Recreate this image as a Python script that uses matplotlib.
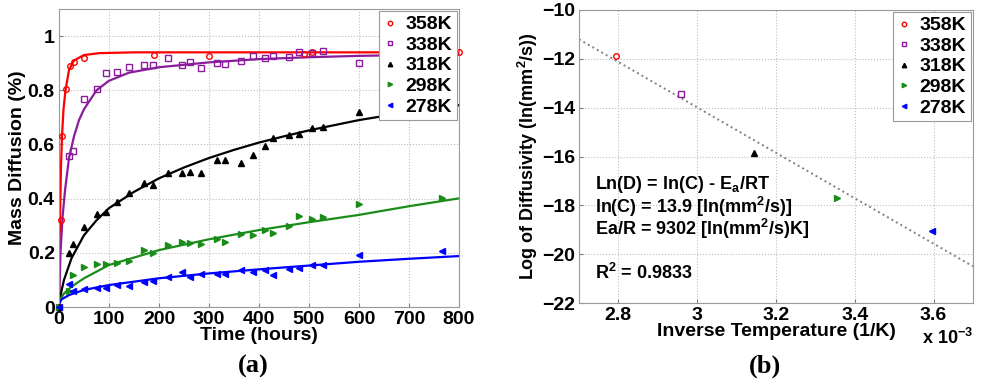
import matplotlib
matplotlib.use("Agg")
import matplotlib.pyplot as plt
from matplotlib.ticker import FixedLocator, FuncFormatter

plt.rcParams['font.family'] = ['Liberation Sans', 'DejaVu Sans']
plt.rcParams['font.weight'] = 'bold'
plt.rcParams['mathtext.fontset'] = 'custom'
plt.rcParams['mathtext.rm'] = 'Liberation Sans:bold'
plt.rcParams['mathtext.it'] = 'Liberation Sans:bold'
plt.rcParams['mathtext.bf'] = 'Liberation Sans:bold'

# ---------------- data: panel (a) ----------------
labels = ["358K", "338K", "318K", "298K", "278K"]
colors = ["#ff0000", "#8a1c9c", "#000000", "#1a8c1a", "#0000ff"]
markers = ["o", "s", "^", ">", "<"]
filled = [False, False, True, True, True]

t358 = [0, 3, 6, 13, 22, 29, 50, 190, 300, 490, 505, 800]
m358 = [0, 0.32, 0.63, 0.805, 0.89, 0.905, 0.92, 0.93, 0.925, 0.935, 0.94, 0.94]

t338 = [20, 28, 50, 76, 93, 115, 139, 169, 188, 218, 245, 261, 283, 316, 331,
        363, 387, 411, 428, 459, 480, 505, 528, 600]
m338 = [0.557, 0.576, 0.768, 0.804, 0.864, 0.868, 0.887, 0.894, 0.895, 0.92,
        0.895, 0.904, 0.884, 0.9, 0.898, 0.909, 0.927, 0.92, 0.927, 0.924,
        0.942, 0.938, 0.945, 0.901]

t318 = [0, 20, 28, 50, 76, 93, 115, 139, 169, 188, 218, 245, 261, 283, 316, 331,
        363, 388, 411, 428, 459, 480, 505, 528, 600]
m318 = [0, 0.2, 0.234, 0.296, 0.345, 0.351, 0.388, 0.421, 0.456, 0.45, 0.493,
        0.493, 0.499, 0.493, 0.544, 0.544, 0.532, 0.56, 0.594, 0.624, 0.634,
        0.638, 0.661, 0.665, 0.72]

t298 = [0, 20, 28, 50, 76, 93, 115, 139, 169, 188, 218, 245, 261, 283, 316, 331,
        363, 388, 411, 428, 459, 480, 505, 528, 600, 765]
m298 = [0, 0.06, 0.117, 0.148, 0.16, 0.16, 0.164, 0.17, 0.21, 0.2, 0.228, 0.24,
        0.238, 0.234, 0.25, 0.24, 0.268, 0.267, 0.286, 0.275, 0.3, 0.336, 0.326,
        0.333, 0.38, 0.404]

t278 = [0, 20, 28, 50, 76, 93, 115, 139, 169, 188, 218, 245, 261, 283, 316, 331,
        363, 388, 411, 428, 459, 480, 505, 528, 600, 765]
m278 = [0, 0.084, 0.06, 0.068, 0.071, 0.071, 0.083, 0.079, 0.092, 0.095, 0.111,
        0.128, 0.111, 0.121, 0.123, 0.121, 0.135, 0.129, 0.135, 0.117, 0.142,
        0.145, 0.154, 0.154, 0.191, 0.206]

# fitted curves
ft358 = [0, 1, 2, 4, 6, 9, 13, 20, 30, 50, 80, 150, 800]
fm358 = [0, 0.18, 0.32, 0.52, 0.63, 0.73, 0.80, 0.875, 0.91, 0.93, 0.937, 0.94, 0.94]
ft338 = [0, 3, 7, 12, 20, 30, 40, 50, 75, 100, 140, 200, 300, 400, 500, 600, 800]
fm338 = [0, 0.2, 0.33, 0.43, 0.55, 0.63, 0.69, 0.73, 0.8, 0.835, 0.865, 0.885,
         0.903, 0.915, 0.922, 0.927, 0.933]
ft318 = [0, 5, 10, 25, 50, 75, 100, 150, 200, 250, 300, 350, 400, 450, 500, 600, 700, 800]
fm318 = [0, 0.06, 0.1, 0.18, 0.265, 0.32, 0.365, 0.425, 0.475, 0.515, 0.55, 0.58,
         0.607, 0.63, 0.652, 0.69, 0.72, 0.745]
ft298 = [0, 10, 25, 50, 100, 200, 300, 400, 500, 600, 700, 800]
fm298 = [0.02, 0.05, 0.075, 0.106, 0.155, 0.21, 0.25, 0.284, 0.313, 0.34, 0.372, 0.401]
ft278 = [0, 5, 20, 50, 100, 200, 300, 400, 500, 600, 700, 800]
fm278 = [0.01, 0.028, 0.044, 0.063, 0.081, 0.106, 0.124, 0.139, 0.153, 0.167, 0.178, 0.188]

# ---------------- data: panel (b) ----------------
invT = [1/358, 1/338, 1/318, 1/298, 1/278]
lnD = [-11.9, -13.45, -15.85, -17.7, -19.05]
fit_x = [2.7e-3, 3.7e-3]
fit_y = [-11.2, -20.5]

fig = plt.figure(figsize=(9.83, 3.85), dpi=100)
ax1 = fig.add_axes([59/983, 1 - 307/385, 400/983, 298/385])
ax2 = fig.add_axes([579/983, 1 - 303/385, 394/983, 293/385])

grid_kw = dict(color="#bdbdbd", linestyle=":", linewidth=0.8)
fs = 14

pts = [(t358, m358), (t338, m338), (t318, m318), (t298, m298), (t278, m278)]
fits = [(ft358, fm358), (ft338, fm338), (ft318, fm318), (ft298, fm298), (ft278, fm278)]

for (tx, my), (fx, fy), c, mk, fl, lb in zip(pts, fits, colors, markers, filled, labels):
    ax1.plot(fx, fy, color=c, linewidth=1.6, zorder=2)
    ax1.plot(tx, my, linestyle="none", marker=mk, markersize=4,
             markerfacecolor=(c if fl else "none"), markeredgecolor=c,
             markeredgewidth=1.0, label=lb, zorder=3, clip_on=False)

ax1.set_xlim(0, 800)
ax1.set_ylim(0, 1.1)
ax1.xaxis.set_major_locator(FixedLocator(range(0, 801, 100)))
ax1.yaxis.set_major_locator(FixedLocator([0, 0.2, 0.4, 0.6, 0.8, 1.0]))
ax1.yaxis.set_major_formatter(FuncFormatter(lambda v, p: "%g" % round(v, 2)))
ax1.grid(True, **grid_kw)
ax1.set_xlabel("Time (hours)", fontsize=fs, fontweight="bold", labelpad=-1)
ax1.set_ylabel("Mass Diffusion (%)", fontsize=fs, fontweight="bold", labelpad=1)
leg1 = ax1.legend(loc="upper right", fontsize=fs, handlelength=0.6, handletextpad=0.5,
                  borderpad=0.25, labelspacing=0.15, fancybox=False, framealpha=1,
                  edgecolor="#9a9a9a", borderaxespad=0.1, markerscale=0.8)
leg1.get_frame().set_linewidth(0.8)

for c, mk, fl, lb, x, y in zip(colors, markers, filled, labels, invT, lnD):
    ax2.plot([x], [y], linestyle="none", marker=mk, markersize=4,
             markerfacecolor=(c if fl else "none"), markeredgecolor=c,
             markeredgewidth=1.0, label=lb, zorder=3)
ax2.plot(fit_x, fit_y, color="#808080", linestyle=":", linewidth=1.4, zorder=2)
ax2.set_xlim(2.7e-3, 3.7e-3)
ax2.set_ylim(-22, -10)
ax2.xaxis.set_major_locator(FixedLocator([2.8e-3, 3.0e-3, 3.2e-3, 3.4e-3, 3.6e-3]))
ax2.xaxis.set_major_formatter(FuncFormatter(lambda v, p: "%g" % round(v * 1e3, 2)))
ax2.yaxis.set_major_locator(FixedLocator(range(-22, -9, 2)))
ax2.grid(True, **grid_kw)
ax2.set_xlabel("Inverse Temperature (1/K)", fontsize=fs, fontweight="bold", labelpad=-1)
ax2.set_ylabel("Log of Diffusivity (ln(mm$^2$/s))", fontsize=13, fontweight="bold", labelpad=1)
leg2 = ax2.legend(loc="upper right", fontsize=fs, handlelength=0.6, handletextpad=0.5,
                  borderpad=0.25, labelspacing=0.15, fancybox=False, framealpha=1,
                  edgecolor="#9a9a9a", borderaxespad=0.1, markerscale=0.8)
leg2.get_frame().set_linewidth(0.8)

ax2.text(2.74e-3, -17.15, "Ln(D) = ln(C) - E$_a$/RT", fontsize=13, fontweight="bold", va="center")
ax2.text(2.74e-3, -18.05, "ln(C) = 13.9 [ln(mm$^2$/s)]", fontsize=13, fontweight="bold", va="center")
ax2.text(2.74e-3, -18.95, "Ea/R = 9302 [ln(mm$^2$/s)K]", fontsize=13, fontweight="bold", va="center")
ax2.text(2.74e-3, -20.75, "R$^2$ = 0.9833", fontsize=13, fontweight="bold", va="center")
ax2.text(1.0, -0.12, "x 10$^{-3}$", transform=ax2.transAxes, ha="right", va="center",
         fontsize=13, fontweight="bold")

for ax in (ax1, ax2):
    ax.tick_params(direction="in", length=3, labelsize=fs, pad=3, color="#808080")
    for lab in ax.get_xticklabels() + ax.get_yticklabels():
        lab.set_fontweight("bold")
    for sp in ax.spines.values():
        sp.set_color("#9a9a9a")
        sp.set_linewidth(0.8)

fig.text(253/983, 1 - 366/385, "(a)", fontsize=19, fontweight="bold",
         family=["Liberation Serif", "DejaVu Serif"], ha="center", va="center")
fig.text(765/983, 1 - 366/385, "(b)", fontsize=19, fontweight="bold",
         family=["Liberation Serif", "DejaVu Serif"], ha="center", va="center")

fig.savefig("out.png", dpi=100)
